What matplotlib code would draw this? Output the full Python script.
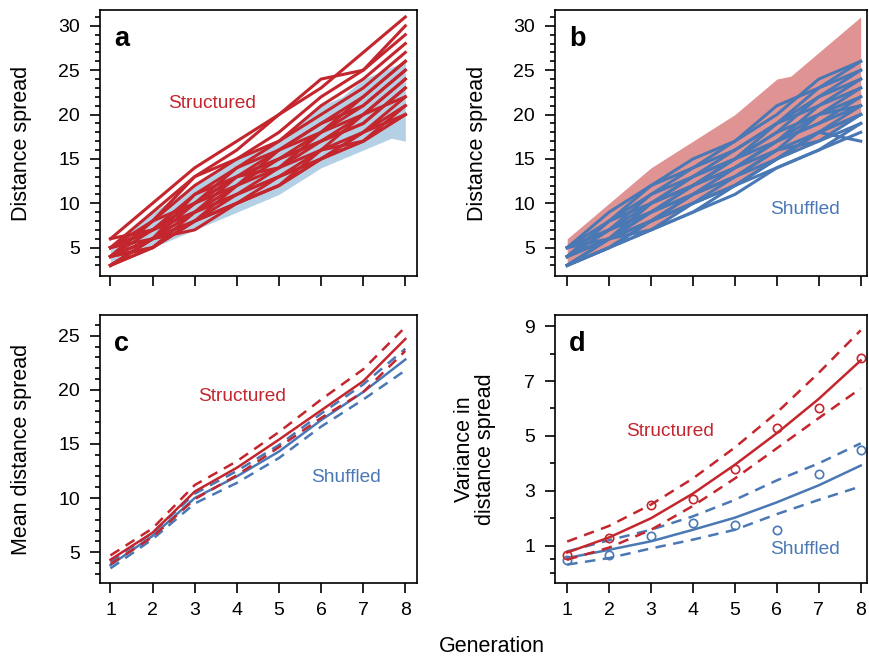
import numpy as np
import matplotlib.pyplot as plt
from matplotlib.ticker import FixedLocator

plt.rcParams['font.family'] = ['Liberation Sans', 'DejaVu Sans']

generations = np.arange(1, 9)

# individual runs, distance spread per generation
structured_runs = [
    [6, 10, 14, 17, 20, 23, 27, 31],
    [5, 9, 13, 16, 20, 24, 25, 29],
    [5, 8, 12, 15, 18, 22, 25, 30],
    [4, 8, 13, 15, 17, 21, 24, 28],
    [5, 7, 11, 14, 17, 20, 23, 27],
    [4, 7, 10, 14, 16, 19, 22, 26],
    [3, 6, 11, 13, 16, 18, 22, 26],
    [5, 7, 10, 12, 16, 19, 21, 25],
    [4, 8, 10, 13, 15, 18, 21, 25],
    [6, 7, 9, 12, 15, 17, 20, 24],
    [3, 6, 10, 13, 14, 18, 20, 24],
    [4, 6, 9, 13, 15, 17, 19, 23],
    [5, 7, 9, 11, 14, 17, 19, 23],
    [3, 5, 8, 12, 14, 16, 20, 22],
    [4, 6, 8, 11, 13, 16, 18, 22],
    [4, 5, 9, 11, 13, 15, 18, 21],
    [3, 5, 8, 10, 12, 16, 17, 21],
    [5, 6, 8, 10, 13, 15, 17, 20],
    [3, 6, 7, 10, 12, 15, 18, 20],
    [4, 5, 8, 10, 12, 15, 17, 20],
]

shuffled_runs = [
    [5, 9, 12, 15, 17, 20, 24, 26],
    [5, 8, 11, 14, 17, 21, 23, 25],
    [4, 8, 12, 14, 16, 19, 23, 26],
    [5, 7, 10, 13, 16, 19, 22, 24],
    [4, 7, 11, 13, 15, 18, 22, 25],
    [3, 6, 10, 13, 15, 19, 21, 24],
    [4, 8, 10, 12, 15, 17, 21, 23],
    [5, 7, 9, 12, 15, 18, 20, 23],
    [3, 6, 9, 12, 14, 17, 20, 22],
    [4, 6, 10, 12, 14, 17, 19, 22],
    [4, 7, 9, 11, 14, 16, 20, 21],
    [3, 6, 8, 11, 14, 17, 19, 21],
    [5, 6, 9, 11, 13, 16, 18, 20],
    [3, 5, 8, 11, 13, 15, 18, 20],
    [4, 6, 8, 10, 13, 16, 17, 20],
    [3, 5, 8, 10, 12, 15, 17, 19],
    [4, 6, 7, 10, 12, 15, 18, 21],
    [3, 5, 7, 9, 11, 14, 16, 19],
    [4, 6, 8, 10, 12, 15, 18, 17],
    [3, 5, 7, 9, 12, 14, 16, 18],
]

# mean distance spread with confidence band
mean_structured = [4.3, 6.8, 10.6, 12.8, 15.4, 18.1, 20.8, 24.7]
mean_structured_hi = [4.7, 7.2, 11.2, 13.4, 16.1, 19.1, 21.9, 25.8]
mean_structured_lo = [3.9, 6.4, 9.9, 12.1, 14.7, 17.4, 19.8, 23.6]
mean_shuffled = [3.8, 6.5, 10.0, 12.0, 14.3, 17.2, 19.8, 22.8]
mean_shuffled_hi = [4.1, 6.8, 10.4, 12.5, 14.9, 17.8, 20.5, 23.8]
mean_shuffled_lo = [3.5, 6.2, 9.5, 11.4, 13.7, 16.6, 19.1, 21.8]

# variance in distance spread: observed and fitted
var_structured_obs = [0.67, 1.28, 2.49, 2.70, 3.80, 5.30, 6.00, 7.83]
var_shuffled_obs = [0.49, 0.67, 1.34, 1.82, 1.74, 1.58, 3.60, 4.49]
var_structured_fit = [0.75, 1.30, 2.00, 2.90, 3.95, 5.10, 6.35, 7.75]
var_structured_hi = [1.15, 1.72, 2.50, 3.45, 4.58, 5.85, 7.30, 8.85]
var_structured_lo = [0.49, 0.93, 1.58, 2.45, 3.45, 4.55, 5.65, 6.73]
var_shuffled_fit = [0.55, 0.85, 1.16, 1.58, 2.02, 2.58, 3.20, 3.92]
var_shuffled_hi = [0.79, 1.20, 1.58, 2.07, 2.67, 3.38, 4.00, 4.73]
var_shuffled_lo = [0.31, 0.55, 0.90, 1.22, 1.58, 2.15, 2.67, 3.16]

RED = '#C4262E'
BLUE = '#4A78B4'
LIGHT_BLUE = '#B4D0E4'
SALMON = '#E09393'
DASH = (0, (4.2, 3.0))
TICK_SIZE = 14
LABEL_SIZE = 15.5
NOTE_SIZE = 13.8


def envelope(runs):
    grid = np.linspace(1, 8, 701)
    arr = np.array([np.interp(grid, generations, r) for r in runs])
    return grid, arr.min(axis=0), arr.max(axis=0)


def style_axis(ax, xlim, ylim, major, minor, show_xlabels):
    ax.set_xlim(*xlim)
    ax.set_ylim(*ylim)
    ax.xaxis.set_major_locator(FixedLocator(generations))
    ax.yaxis.set_major_locator(FixedLocator(major))
    ax.yaxis.set_minor_locator(FixedLocator(minor))
    ax.tick_params(axis='both', which='major', direction='out', length=7.5,
                   width=1.2, labelsize=TICK_SIZE)
    ax.tick_params(axis='y', which='major', pad=7)
    ax.tick_params(axis='x', which='major', pad=6, labelbottom=show_xlabels)
    ax.tick_params(axis='y', which='minor', direction='out', length=3.8, width=1.2)
    for s in ax.spines.values():
        s.set_linewidth(1.2)


def panel_letter(ax, letter):
    ax.text(0.045, 0.865, letter, transform=ax.transAxes, fontsize=19.5,
            fontweight='bold', va='baseline', ha='left')


def note(ax, x, y, text, color):
    ax.text(x, y, text, color=color, fontsize=NOTE_SIZE, ha='center', va='center')


def plot_runs(ax, runs, other_runs, line_color, fill_color):
    grid, lo, hi = envelope(other_runs)
    ax.fill_between(grid, lo, hi, color=fill_color, linewidth=0, zorder=1)
    for r in runs:
        ax.plot(generations, r, color=line_color, lw=2.2, zorder=2,
                solid_joinstyle='round')


def plot_band(ax, mid, hi, lo, color):
    ax.plot(generations, mid, color=color, lw=1.8)
    ax.plot(generations, hi, color=color, lw=1.8, linestyle=DASH)
    ax.plot(generations, lo, color=color, lw=1.8, linestyle=DASH)


def main():
    fig = plt.figure(figsize=(8.69, 6.58), dpi=100)
    ax_a = fig.add_axes([0.115, 0.5805, 0.365, 0.4045])
    ax_b = fig.add_axes([0.6387, 0.5805, 0.359, 0.4045])
    ax_c = fig.add_axes([0.115, 0.114, 0.365, 0.407])
    ax_d = fig.add_axes([0.6387, 0.114, 0.359, 0.407])

    left_x = (0.75, 8.28)
    right_x = (0.71, 8.15)
    major_ab = [5, 10, 15, 20, 25, 30]
    minor_ab = [v for v in range(3, 32) if v % 5]

    # a: structured runs over shuffled range
    plot_runs(ax_a, structured_runs, shuffled_runs, RED, LIGHT_BLUE)
    style_axis(ax_a, left_x, (1.8, 31.8), major_ab, minor_ab, False)
    ax_a.set_ylabel('Distance spread', fontsize=LABEL_SIZE)
    ax_a.yaxis.set_label_coords(-0.215, 0.5)
    note(ax_a, 3.4, 21.3, 'Structured', RED)
    panel_letter(ax_a, 'a')

    # b: shuffled runs over structured range
    plot_runs(ax_b, shuffled_runs, structured_runs, BLUE, SALMON)
    style_axis(ax_b, right_x, (1.8, 31.8), major_ab, minor_ab, False)
    ax_b.set_ylabel('Distance spread', fontsize=LABEL_SIZE)
    ax_b.yaxis.set_label_coords(-0.215, 0.5)
    note(ax_b, 6.68, 9.3, 'Shuffled', BLUE)
    panel_letter(ax_b, 'b')

    # c: mean distance spread
    plot_band(ax_c, mean_shuffled, mean_shuffled_hi, mean_shuffled_lo, BLUE)
    plot_band(ax_c, mean_structured, mean_structured_hi, mean_structured_lo, RED)
    style_axis(ax_c, left_x, (2.15, 26.9), [5, 10, 15, 20, 25],
               [v for v in range(3, 27) if v % 5], True)
    ax_c.set_ylabel('Mean distance spread', fontsize=LABEL_SIZE)
    ax_c.yaxis.set_label_coords(-0.215, 0.5)
    note(ax_c, 4.12, 19.35, 'Structured', RED)
    note(ax_c, 6.6, 11.9, 'Shuffled', BLUE)
    panel_letter(ax_c, 'c')

    # d: variance in distance spread
    plot_band(ax_d, var_shuffled_fit, var_shuffled_hi, var_shuffled_lo, BLUE)
    plot_band(ax_d, var_structured_fit, var_structured_hi, var_structured_lo, RED)
    ax_d.plot(generations, var_shuffled_obs, linestyle='none', marker='o', ms=6,
              mfc='none', mec=BLUE, mew=1.2)
    ax_d.plot(generations, var_structured_obs, linestyle='none', marker='o', ms=6,
              mfc='none', mec=RED, mew=1.2)
    style_axis(ax_d, right_x, (-0.36, 9.4), [1, 3, 5, 7, 9], [0, 0.5, 2, 4, 6, 8], True)
    ax_d.set_ylabel('Variance in\ndistance spread', fontsize=LABEL_SIZE, linespacing=1.0)
    ax_d.yaxis.set_label_coords(-0.19, 0.5)
    note(ax_d, 3.45, 5.15, 'Structured', RED)
    note(ax_d, 6.68, 0.85, 'Shuffled', BLUE)
    panel_letter(ax_d, 'd')

    fig.text(492 / 869, 1 - 647 / 658, 'Generation', fontsize=LABEL_SIZE,
             ha='center', va='center')
    fig.savefig('out.png', dpi=100)


if __name__ == "__main__":
    main()
